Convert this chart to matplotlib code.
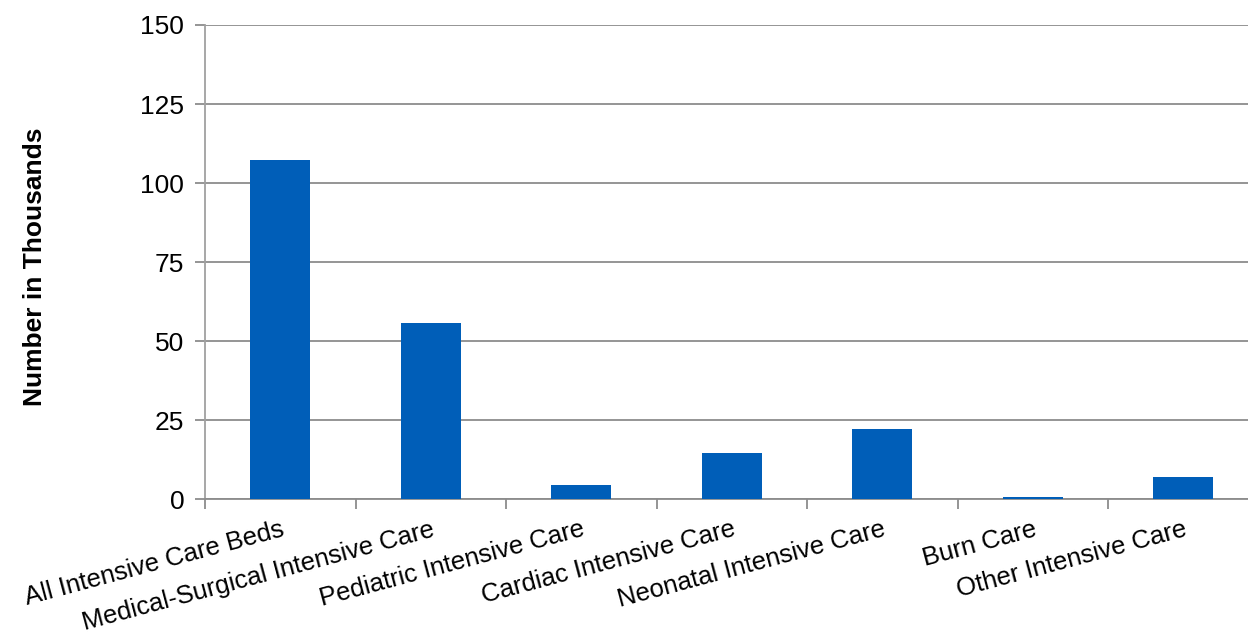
import numpy as np
import matplotlib.pyplot as plt
from matplotlib.ticker import FixedLocator

###############################################################################
# Data
###############################################################################
categories = [
    'All Intensive Care Beds', 'Medical-Surgical Intensive Care',
    'Pediatric Intensive Care', 'Cardiac Intensive Care',
    'Neonatal Intensive Care', 'Burn Care', 'Other Intensive Care'
]
beds = [107.3, 55.6, 4.5, 14.6, 22.2, 0.7, 7.0]
yTicks = [0, 25, 50, 75, 100, 125, 150]
###############################################################################
# Plot
###############################################################################
plt.rcParams['font.family'] = ['Liberation Sans', 'DejaVu Sans']
(barColor, gridColor) = ('#005EB8', '#8C8C8C')
fig = plt.figure(figsize=(12.48, 6.37), dpi=100)
ax = fig.add_axes([0.1643, 0.2162, 0.8441, 0.7446])
x = np.arange(len(categories))
ax.bar(x, beds, width=0.4, color=barColor, zorder=3)
# Styling ---------------------------------------------------------------------
ax.set_xlim(-0.5, len(categories) - 0.5)
ax.set_ylim(0, 150)
ax.set_yticks(yTicks)
ax.yaxis.grid(True, color=gridColor, lw=1.3, zorder=0)
ax.set_axisbelow(True)
for s in ('top', 'right'):
    ax.spines[s].set_visible(False)
ax.spines['left'].set_color('#A0A0A0')
ax.spines['left'].set_linewidth(1.3)
ax.spines['bottom'].set_color(gridColor)
ax.spines['bottom'].set_linewidth(1.3)
ax.tick_params(axis='y', which='major', length=7, width=1.3,
               color=gridColor, labelsize=19, pad=8)
ax.set_xticks(x)
ax.set_xticklabels(categories, rotation=15, ha='right',
                   rotation_mode='anchor', fontsize=18.5)
ax.tick_params(axis='x', which='major', length=0, pad=13)
ax.xaxis.set_minor_locator(FixedLocator(np.arange(len(categories)) - 0.5))
ax.tick_params(axis='x', which='minor', length=7, width=1.3, color=gridColor)
ax.set_ylabel('Number in Thousands', fontsize=19, fontweight='bold')
ax.yaxis.set_label_coords(-0.150, 0.49)
# Export ----------------------------------------------------------------------
fig.savefig('out.png', dpi=100, facecolor='w')
